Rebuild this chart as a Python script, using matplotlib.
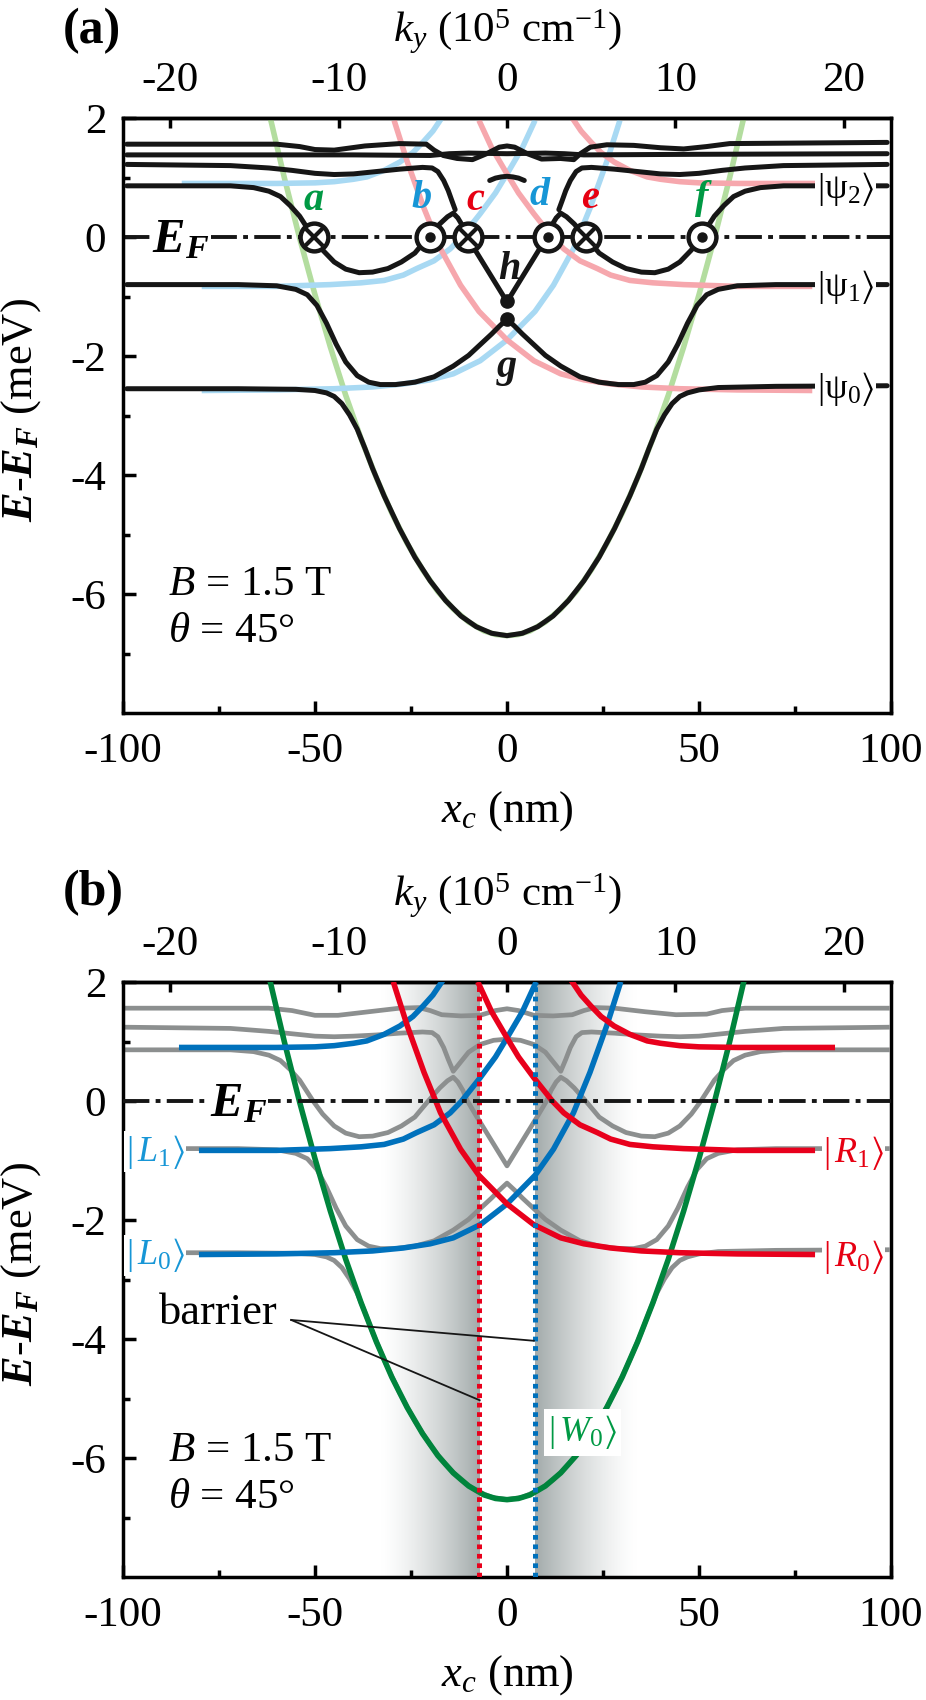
import numpy as np
import matplotlib
matplotlib.use("Agg")
import matplotlib.pyplot as plt
from matplotlib.colors import LinearSegmentedColormap
from matplotlib.ticker import MultipleLocator, FixedLocator

plt.rcParams.update({
    "font.family": ["Liberation Serif", "DejaVu Serif"],
    "mathtext.fontset": "custom",
    "mathtext.rm": "Liberation Serif",
    "mathtext.it": "Liberation Serif:italic",
    "mathtext.bf": "Liberation Serif:italic:bold",
    "mathtext.fallback": "stix",
    "axes.unicode_minus": False,
    "lines.scale_dashes": False,
    "axes.linewidth": 2.5,
})

# x_c (nm) per k_y unit (10^5 cm^-1) at B = 1.5 T
NM_PER_KY = 4.388

# ---- adiabatic bands (black in (a), gray in (b)) ----
# psi0 band
xA = [-99, -70, -55, -50, -47, -45, -43, -41, -39, -37, -35, -32, -28, -24, -20, -16, -12, -8, -4, 0,
      4, 8, 12, 16, 20, 24, 28, 32, 35, 37, 39, 41, 43, 45, 47, 50, 55, 70, 99]
EA = [-2.55, -2.55, -2.56, -2.58, -2.62, -2.68, -2.80, -2.99, -3.23, -3.55, -3.89, -4.35, -4.90, -5.38,
      -5.78, -6.11, -6.37, -6.55, -6.66, -6.70, -6.66, -6.55, -6.37, -6.11, -5.78, -5.38, -4.90, -4.35,
      -3.89, -3.55, -3.23, -2.99, -2.80, -2.68, -2.62, -2.57, -2.53, -2.51, -2.50]
# psi1 band
xB = [-99, -70, -60, -55, -52, -49.5, -47, -44.5, -42, -39, -36, -33, -29, -24, -19, -14, -10, -7, -4, -2, 0,
      2, 4, 7, 10, 14, 19, 24, 29, 33, 36, 39, 42, 44.5, 47, 49.5, 52, 55, 60, 70, 99]
EB = [-0.80, -0.80, -0.82, -0.88, -0.97, -1.15, -1.45, -1.80, -2.10, -2.33, -2.44, -2.48, -2.48, -2.44,
      -2.35, -2.17, -1.99, -1.81, -1.63, -1.50, -1.38,
      -1.50, -1.63, -1.81, -1.99, -2.17, -2.35, -2.44, -2.48, -2.48, -2.44, -2.33, -2.10, -1.80, -1.45,
      -1.15, -0.97, -0.88, -0.82, -0.80, -0.80]
# psi2 band
xC = [-99, -72, -66, -62, -59, -56.5, -54, -52.5, -50.5, -48, -45, -42, -38.5, -35, -31, -27.5, -24, -20.5,
      -17.5, -15.5, -14, -12.8, -11.5, -10.3, -8, -6, -4, -2, 0,
      2, 4, 6, 8, 10.3, 11.5, 12.8, 14, 15.5, 17.5, 20.5, 24, 27.5, 31, 35, 38.5, 42, 45, 48, 50.5, 52.5,
      54, 56.5, 59, 62, 66, 72, 99]
EC = [0.86, 0.86, 0.83, 0.77, 0.68, 0.53, 0.35, 0.20, 0.0, -0.22, -0.42, -0.54, -0.60, -0.59, -0.53, -0.42,
      -0.27, 0.0, 0.22, 0.34, 0.40, 0.32, 0.18, 0.0, -0.25, -0.46, -0.67, -0.88, -1.09,
      -0.88, -0.67, -0.46, -0.25, 0.0, 0.18, 0.32, 0.40, 0.34, 0.22, 0.0, -0.27, -0.42, -0.53, -0.59, -0.60,
      -0.54, -0.42, -0.22, 0.0, 0.20, 0.35, 0.53, 0.68, 0.77, 0.83, 0.86, 0.86]
# fourth band, panel (a) pieces
xD_left = [-99, -72, -62, -56, -50, -45, -40, -34, -28, -22, -19.5, -18, -16.5, -15.3, -14.3, -13.5]
ED_left = [1.22, 1.20, 1.16, 1.12, 1.07, 1.05, 1.06, 1.10, 1.14, 1.17, 1.16, 1.10, 0.95, 0.78, 0.60, 0.46]
xD_mid = [-4.5, -3, -1.5, 0, 1.5, 3, 4.5]
ED_mid = [0.95, 0.99, 1.01, 1.02, 1.01, 0.99, 0.95]
xD_right = [13.5, 14.3, 15.3, 16.5, 18, 19.5, 22, 28, 34, 40, 45, 50, 56, 62, 72, 99]
ED_right = [0.46, 0.60, 0.78, 0.95, 1.10, 1.16, 1.17, 1.14, 1.10, 1.06, 1.05, 1.07, 1.12, 1.16, 1.20, 1.22]
# fourth band, panel (b)
xDb = [-99, -72, -62, -56, -50, -45, -40, -34, -28, -22, -19.5, -18, -16.5, -15.3, -14, -12.5, -10, -7, -3.5, 0,
       3.5, 7, 10, 12.5, 14, 15.3, 16.5, 18, 19.5, 22, 28, 34, 40, 45, 50, 56, 62, 72, 99]
EDb = [1.24, 1.22, 1.17, 1.13, 1.09, 1.08, 1.09, 1.11, 1.14, 1.16, 1.15, 1.08, 0.90, 0.70, 0.50, 0.62, 0.82,
       0.95, 1.02, 1.04, 1.02, 0.95, 0.82, 0.62, 0.50, 0.70, 0.90, 1.08, 1.15, 1.16, 1.14, 1.11, 1.09, 1.08,
       1.09, 1.13, 1.17, 1.22, 1.24]
# top bands
xT1 = [-99, -60, -54, -50, -45, -37, -28, -21, -19, -16.6, -13, -9, -5.3, -2, 0, 2, 5.3, 9, 13.9, 17.4, 19.1,
       21.7, 26, 33, 40, 46, 52, 58, 99]
ET1 = [1.56, 1.56, 1.52, 1.47, 1.46, 1.53, 1.57, 1.56, 1.46, 1.37, 1.32, 1.30, 1.40, 1.51, 1.53, 1.51, 1.40,
       1.31, 1.32, 1.30, 1.40, 1.51, 1.55, 1.54, 1.50, 1.48, 1.52, 1.57, 1.59]
xT2 = [-99, -40, -20, -15, -10, 0, 10, 15, 20, 50, 99]
ET2 = [1.38, 1.38, 1.37, 1.40, 1.41, 1.40, 1.41, 1.40, 1.38, 1.39, 1.40]
xTb = [-99, -62, -56, -50, -44, -36, -28, -23, -20, -17, -12, -7, -3, 0, 3, 7, 12, 17, 20, 23, 28, 36, 44, 52,
       56, 62, 99]
ETb = [1.56, 1.56, 1.52, 1.44, 1.44, 1.50, 1.56, 1.57, 1.52, 1.45, 1.43, 1.44, 1.52, 1.55, 1.52, 1.44, 1.43,
       1.45, 1.52, 1.57, 1.56, 1.50, 1.45, 1.46, 1.52, 1.56, 1.56]

# ---- diabatic states ----
xW = [-61.6, -58, -54, -50, -46, -42, -38, -34, -30, -26, -22, -18, -14, -10, -6, -3, 0,
      3, 6, 10, 14, 18, 22, 26, 30, 34, 38, 42, 46, 50, 54, 58, 61.6]
EW = [1.99, 1.00, -0.02, -0.97, -1.85, -2.66, -3.39, -4.05, -4.64, -5.15, -5.59, -5.96, -6.25, -6.47, -6.62,
      -6.68, -6.70, -6.68, -6.62, -6.47, -6.25, -5.96, -5.59, -5.15, -4.64, -4.05, -3.39, -2.66, -1.85,
      -0.97, -0.02, 1.00, 1.99]
xL0 = [-79.5, -60, -45, -35, -27, -20, -14, -7, 0, 7.3, 12.1, 17.3, 21.6, 26.0, 29.4]
EL0 = [-2.58, -2.57, -2.55, -2.52, -2.47, -2.40, -2.30, -2.08, -1.73, -1.25, -0.81, -0.20, 0.48, 1.27, 1.96]
xL1 = [-79.5, -60, -46, -38, -32, -27, -23.5, -19, -14.8, -11.8, -7, -3, 0, 4, 7.3]
EL1 = [-0.83, -0.83, -0.80, -0.77, -0.73, -0.64, -0.53, -0.40, -0.20, 0.0, 0.39, 0.74, 1.06, 1.50, 1.96]
xL2 = [-84.7, -60, -50, -45, -40, -36.5, -32, -27.9, -24.5, -21.8, -19.3, -17]
EL2 = [0.90, 0.90, 0.91, 0.93, 0.97, 1.01, 1.12, 1.26, 1.42, 1.60, 1.78, 2.0]
xR0 = [79.5, 60, 45, 35, 27, 20, 14, 7, 0, -7.3, -12.1, -17.3, -21.6, -26.0, -29.4]
ER0 = [-2.58, -2.57, -2.55, -2.52, -2.47, -2.40, -2.30, -2.08, -1.73, -1.25, -0.81, -0.20, 0.48, 1.27, 1.96]
xR1 = [79.5, 60, 46, 38, 32, 27, 23.5, 19, 14.8, 11.8, 7, 3, 0, -4, -7.3]
ER1 = [-0.83, -0.83, -0.80, -0.77, -0.73, -0.64, -0.53, -0.40, -0.20, 0.0, 0.39, 0.74, 1.06, 1.50, 1.96]
xR2 = [84.7, 60, 50, 45, 40, 36.5, 32, 27.9, 24.5, 21.8, 19.3, 17]
ER2 = [0.90, 0.90, 0.91, 0.93, 0.97, 1.01, 1.12, 1.26, 1.42, 1.60, 1.78, 2.0]

# Fermi level crossings
cross_x = [-50.3, -10.1, 20.7]   # into page
dot_x = [-20.1, 10.6, 50.7]      # out of page
crossing_letters = ["a", "b", "c", "d", "e", "f"]
barrier_x = [-7.2, 7.2]

BLACK = "#161616"
GRAY = "#8c8f8f"
BLUE, RED, GREEN = "#0071bc", "#e8001c", "#00843c"
LBLUE, LRED, LGREEN = "#a8d9f3", "#f6a7ad", "#b3dd9f"
TBLUE, TRED, TGREEN = "#1796d6", "#e60012", "#009944"


def style_axes(ax):
    ax.set_xlim(-100, 100)
    ax.set_ylim(-8, 2)
    ax.xaxis.set_major_locator(MultipleLocator(50))
    ax.xaxis.set_minor_locator(MultipleLocator(25))
    ax.yaxis.set_major_locator(FixedLocator([-6, -4, -2, 0, 2]))
    ax.yaxis.set_minor_locator(FixedLocator([-7, -5, -3, -1, 1]))
    ax.tick_params(which="major", direction="in", length=9, width=2.5, labelsize=31, top=False, right=False)
    ax.tick_params(which="minor", direction="in", length=5, width=2.5, top=False, right=False)
    ax.tick_params(axis="x", pad=14)
    ax.tick_params(axis="y", pad=12)
    sec = ax.secondary_xaxis("top", functions=(lambda x: x / NM_PER_KY, lambda k: k * NM_PER_KY))
    sec.set_xticks([-20, -10, 0, 10, 20])
    sec.tick_params(direction="in", length=7, width=2.5, labelsize=31, pad=13)
    sec.set_xlabel(r"$k_y$ (10$^5$ cm$^{-1}$)", fontsize=31, labelpad=14)
    ax.set_xlabel(r"$x_c$ (nm)", fontsize=32, labelpad=13)
    ax.set_ylabel(r"$\mathbf{E}$-$\mathbf{E}_{\mathbf{F}}$ (meV)", fontsize=32)
    ax.yaxis.set_label_coords(-0.104, 0.51)
    for s in ax.spines.values():
        s.set_linewidth(2.5)


fig = plt.figure(figsize=(9.26, 17.0), dpi=100)
axa = fig.add_axes([123 / 926, 1 - 713 / 1700, 768 / 926, 595 / 1700])
axb = fig.add_axes([123 / 926, 1 - 1577 / 1700, 768 / 926, 595 / 1700])

fermi_ls = (0, (19, 4.5, 3.5, 4.5))
white_box = dict(facecolor="white", edgecolor="none", pad=1.0)

# ================= panel (a) =================
ax = axa
for x, e, c in [(xW, EW, LGREEN), (xL0, EL0, LBLUE), (xL1, EL1, LBLUE), (xL2, EL2, LBLUE),
                (xR0, ER0, LRED), (xR1, ER1, LRED), (xR2, ER2, LRED)]:
    ax.plot(x, e, color=c, lw=4.0, zorder=1, solid_capstyle="butt")
ax.axhline(0, color=BLACK, lw=2.8, ls=fermi_ls, zorder=2)
for x, e in [(xA, EA), (xB, EB), (xC, EC), (xD_left, ED_left), (xD_mid, ED_mid), (xD_right, ED_right),
             (xT1, ET1), (xT2, ET2)]:
    ax.plot(x, e, color=BLACK, lw=3.6, zorder=3, solid_capstyle="round")

ax.plot(cross_x + dot_x, [0] * 6, "o", ms=20, mfc="white", mec=BLACK, mew=3.2, zorder=5)
ax.plot(cross_x, [0] * 3, "x", ms=13, mec=BLACK, mew=3, zorder=6)
ax.plot(dot_x, [0] * 3, "o", ms=6.5, mfc=BLACK, mec=BLACK, zorder=6)
ax.plot([0, 0], [-1.08, -1.38], "o", ms=9.5, color=BLACK, zorder=6)

letter_pos = [(-50.4, 0.61), (-22.2, 0.64), (-8.3, 0.61), (8.6, 0.69), (21.6, 0.64), (50.7, 0.64)]
letter_col = [TGREEN, TBLUE, TRED, TBLUE, TRED, TGREEN]
for lab, (px, py), c in zip(crossing_letters, letter_pos, letter_col):
    ax.text(px, py, lab, color=c, fontsize=29, fontweight="bold", fontstyle="italic",
            ha="center", va="center", zorder=7)
ax.text(0.5, -0.55, "h", color=BLACK, fontsize=29, fontweight="bold", fontstyle="italic",
        ha="center", va="center", zorder=7)
ax.text(0, -2.2, "g", color=BLACK, fontsize=29, fontweight="bold", fontstyle="italic",
        ha="center", va="center", zorder=7)

ax.text(-85, -0.05, r"$\mathbf{E}_{\mathbf{F}}$", fontsize=35, ha="center", va="center",
        bbox=white_box, zorder=4)
for lab, y in [(r"$|\mathrm{\psi}_2\rangle$", 0.80), (r"$|\mathrm{\psi}_1\rangle$", -0.84),
               (r"$|\mathrm{\psi}_0\rangle$", -2.55)]:
    ax.text(80.7, y, lab, fontsize=26, ha="left", va="center", bbox=white_box, zorder=7)
ax.text(-88.3, -5.85, r"$B$ = 1.5 T", fontsize=31, ha="left", va="center")
ax.text(-88.3, -6.64, r"$\theta$ = 45°", fontsize=31, ha="left", va="center")
style_axes(ax)

# ================= panel (b) =================
ax = axb
grad = np.linspace(0, 1, 256) ** 1.4
shade = LinearSegmentedColormap.from_list("shade", ["white", "#a3abab"])
ax.imshow(grad[np.newaxis, :], extent=[-33, barrier_x[0], -8, 2], cmap=shade, aspect="auto",
          vmin=0, vmax=1, zorder=0)
ax.imshow(grad[np.newaxis, ::-1], extent=[barrier_x[1], 34, -8, 2], cmap=shade, aspect="auto",
          vmin=0, vmax=1, zorder=0)

for x, e in [(xA, EA), (xB, EB), (xC, EC), (xDb, EDb), (xTb, ETb)]:
    ax.plot(x, e, color=GRAY, lw=3.4, zorder=2)
for x, e, c in [(xW, EW, GREEN), (xL0, EL0, BLUE), (xL1, EL1, BLUE), (xL2, EL2, BLUE),
                (xR0, ER0, RED), (xR1, ER1, RED), (xR2, ER2, RED)]:
    ax.plot(x, e, color=c, lw=4.0, zorder=3)
ax.axvline(barrier_x[0], color=RED, lw=3.6, ls=(0, (3.4, 3.4)), zorder=4)
ax.axvline(barrier_x[1], color=BLUE, lw=3.6, ls=(0, (3.4, 3.4)), zorder=4)
ax.axhline(0, color=BLACK, lw=2.8, ls=fermi_ls, zorder=4.5)

ax.text(-70, -0.05, r"$\mathbf{E}_{\mathbf{F}}$", fontsize=35, ha="center", va="center",
        bbox=white_box, zorder=5)
ax.text(-99.3, -0.85, r"$|\,L_1\rangle$", color=TBLUE, fontsize=26, ha="left", va="center",
        bbox=white_box, zorder=6)
ax.text(-99.3, -2.59, r"$|\,L_0\rangle$", color=TBLUE, fontsize=26, ha="left", va="center",
        bbox=white_box, zorder=6)
ax.text(82.3, -0.88, r"$|\,R_1\rangle$", color=TRED, fontsize=26, ha="left", va="center",
        bbox=white_box, zorder=6)
ax.text(82.3, -2.62, r"$|\,R_0\rangle$", color=TRED, fontsize=26, ha="left", va="center",
        bbox=white_box, zorder=6)
ax.text(10.7, -5.57, r"$|\,W_0\rangle$", color=TGREEN, fontsize=26, ha="left", va="center",
        bbox=dict(facecolor="white", edgecolor="none", pad=3), zorder=6)

ax.plot([-56.2, -7.1], [-3.68, -5.03], color=BLACK, lw=1.3, zorder=6)
ax.plot([-56.2, 7.0], [-3.68, -4.03], color=BLACK, lw=1.3, zorder=6)
ax.text(-90.6, -3.56, "barrier", fontsize=32, ha="left", va="center", zorder=6)
ax.text(-88.3, -5.87, r"$B$ = 1.5 T", fontsize=31, ha="left", va="center", zorder=6)
ax.text(-88.3, -6.67, r"$\theta$ = 45°", fontsize=31, ha="left", va="center", zorder=6)
style_axes(ax)

fig.text(63 / 926, 1 - 31 / 1700, "(a)", fontsize=36, fontweight="bold", va="center", ha="left")
fig.text(63 / 926, 1 - 893 / 1700, "(b)", fontsize=36, fontweight="bold", va="center", ha="left")

fig.savefig("out.png", dpi=100)
